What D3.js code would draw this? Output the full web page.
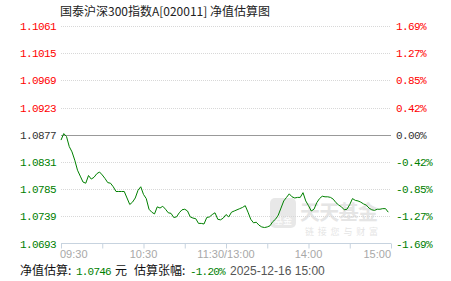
<!DOCTYPE html>
<html>
<head>
<meta charset="utf-8">
<script src="https://cdn.jsdelivr.net/npm/d3@7"></script>
<style>
  body { margin: 0; background: #fff; }
  svg { display: block; }
</style>
</head>
<body>
<div id="chart"></div>
<script>
// estimated NAV every 2 minutes from 09:30
const navValues = [
  1.0868, 1.0879, 1.0874, 1.0857, 1.0848, 1.0834, 1.0817, 1.0807, 1.0797, 1.0795,
  1.0808, 1.0802, 1.0805, 1.0811, 1.0814, 1.0809, 1.0803, 1.0796, 1.0795, 1.0789,
  1.0781, 1.0781, 1.0781, 1.0781, 1.0770, 1.0759, 1.0763, 1.0770, 1.0783, 1.0789,
  1.0776, 1.0769, 1.0751, 1.0746, 1.0743, 1.0755, 1.0753, 1.0756, 1.0751, 1.0745,
  1.0744, 1.0737, 1.0738, 1.0745, 1.0750, 1.0751, 1.0748, 1.0738, 1.0736, 1.0735,
  1.0727, 1.0727, 1.0726, 1.0737, 1.0738, 1.0742, 1.0745, 1.0734, 1.0733, 1.0736,
  1.0742, 1.0738, 1.0746, 1.0748, 1.0750, 1.0752, 1.0754, 1.0757, 1.0746, 1.0734,
  1.0728, 1.0729, 1.0724, 1.0721, 1.0720, 1.0721, 1.0723, 1.0730, 1.0734, 1.0741,
  1.0753, 1.0765, 1.0771, 1.0777, 1.0772, 1.0770, 1.0771, 1.0771, 1.0779, 1.0765,
  1.0757, 1.0748, 1.0751, 1.0762, 1.0769, 1.0773, 1.0772, 1.0772, 1.0771, 1.0768,
  1.0762, 1.0758, 1.0755, 1.0750, 1.0751, 1.0759, 1.0769, 1.0766, 1.0765, 1.0763,
  1.0760, 1.0758, 1.0753, 1.0750, 1.0749, 1.0751, 1.0751, 1.0752, 1.0752, 1.0746
];
const stepMinutes = 2;

const baseNav = 1.0877;
const navTicks = [1.1061, 1.1015, 1.0969, 1.0923, 1.0877, 1.0831, 1.0785, 1.0739, 1.0693];
const pctTicks = ["1.69%", "1.27%", "0.85%", "0.42%", "0.00%", "-0.42%", "-0.85%", "-1.27%", "-1.69%"];
const timeLabels = ["09:30", "10:30", "11:30/13:00", "14:00", "15:00"];
const timeLabelMinutes = [0, 60, 120, 180, 240];
const minorTickMinutes = [0, 30, 60, 90, 120, 150, 180, 210, 240];

const title = "国泰沪深300指数A[020011] 净值估算图";
const estNav = "1.0746";
const estPct = "-1.20%";
const estTime = "2025-12-16 15:00";

const width = 451, height = 281;
const plotLeft = 61, plotRight = 391, plotTop = 26, plotBottom = 243.5;
const red = "#f00", green = "#008000", dark = "#333";
const numFont = "'Liberation Mono', 'DejaVu Sans Mono', monospace";
const cjkFont = "'Noto Sans CJK SC', sans-serif";

const svg = d3.select("#chart").append("svg")
  .attr("width", width)
  .attr("height", height);

const x = d3.scaleLinear().domain([0, 240]).range([plotLeft, plotRight]);
const y = d3.scaleLinear().domain([navTicks[navTicks.length - 1], navTicks[0]]).range([plotBottom, plotTop]);

const colorFor = v => v > baseNav ? red : (v < baseNav ? green : dark);

// watermark
const wm = svg.append("g").attr("opacity", 0.55);
wm.append("rect")
  .attr("x", 270).attr("y", 198).attr("width", 26).attr("height", 30).attr("rx", 5)
  .attr("fill", "#d6d6d6");
wm.append("text")
  .attr("x", 283).attr("y", 224).attr("text-anchor", "middle")
  .attr("font-family", cjkFont).attr("font-size", 9).attr("fill", "#fff")
  .text("基金");
wm.append("text")
  .attr("x", 300).attr("y", 220)
  .attr("font-family", cjkFont).attr("font-size", 20).attr("font-weight", "bold")
  .attr("fill", "#d0d0d0").attr("textLength", 78)
  .text("天天基金");
wm.append("text")
  .attr("x", 305).attr("y", 235)
  .attr("font-family", cjkFont).attr("font-size", 9)
  .attr("fill", "#cfcfcf").attr("textLength", 73)
  .text("链接您与财富");

// grid
svg.append("g")
  .selectAll("line")
  .data(navTicks.filter(v => v !== baseNav && v !== navTicks[navTicks.length - 1]))
  .join("line")
  .attr("x1", plotLeft).attr("x2", plotRight)
  .attr("y1", d => Math.round(y(d)) + 0.5).attr("y2", d => Math.round(y(d)) + 0.5)
  .attr("stroke", "#d8d8d8")
  .attr("stroke-dasharray", "1,1");

svg.append("line")
  .attr("x1", plotLeft).attr("x2", plotRight)
  .attr("y1", Math.round(y(baseNav)) + 0.5).attr("y2", Math.round(y(baseNav)) + 0.5)
  .attr("stroke", "#999");

// bottom axis
const xAxis = d3.axisBottom(x)
  .tickValues(minorTickMinutes)
  .tickSize(5)
  .tickFormat("");
const axisG = svg.append("g")
  .attr("transform", `translate(0,${Math.round(plotBottom) - 0.5})`)
  .call(xAxis);
axisG.select(".domain").attr("stroke", "#c7d3df").attr("d", `M${plotLeft},0H${plotRight}`);
axisG.selectAll(".tick line").attr("stroke", "#c7d3df");

svg.append("g")
  .selectAll("text")
  .data(timeLabels)
  .join("text")
  .attr("x", (d, i) => x(timeLabelMinutes[i]) + (i === 0 ? -1 : 0))
  .attr("y", 258)
  .attr("text-anchor", (d, i) => i === 0 ? "start" : (i === timeLabels.length - 1 ? "end" : "middle"))
  .attr("font-family", "'Liberation Sans', Arial, sans-serif")
  .attr("font-size", 11)
  .attr("fill", "#a8a8a8")
  .text(d => d);

// y labels
svg.append("g")
  .selectAll("text")
  .data(navTicks)
  .join("text")
  .attr("x", 56)
  .attr("y", d => y(d) + 4)
  .attr("text-anchor", "end")
  .attr("font-family", numFont)
  .attr("font-size", 11)
  .attr("letter-spacing", "-0.6px")
  .attr("fill", colorFor)
  .text(d => d.toFixed(4));

svg.append("g")
  .selectAll("text")
  .data(pctTicks)
  .join("text")
  .attr("x", 396)
  .attr("y", (d, i) => y(navTicks[i]) + 4)
  .attr("font-family", numFont)
  .attr("font-size", 11)
  .attr("letter-spacing", "-0.6px")
  .attr("fill", (d, i) => colorFor(navTicks[i]))
  .text(d => d);

// line
const line = d3.line()
  .x((d, i) => x(i * stepMinutes))
  .y(d => y(d));

svg.append("path")
  .datum(navValues)
  .attr("fill", "none")
  .attr("stroke", "#008000")
  .attr("stroke-width", 1)
  .attr("d", line);

// title
svg.append("text")
  .attr("x", 165).attr("y", 16)
  .attr("text-anchor", "middle")
  .attr("font-family", cjkFont)
  .attr("font-size", 12)
  .attr("fill", "#222")
  .text(title);

// footer
const foot = svg.append("text")
  .attr("y", 275)
  .attr("font-size", 12);
foot.append("tspan").attr("x", 20).attr("font-family", cjkFont).attr("fill", "#111").text("净值估算:");
foot.append("tspan").attr("x", 76).attr("font-family", numFont).attr("font-size", 11)
  .attr("letter-spacing", "-0.8px").attr("fill", green).text(estNav);
foot.append("tspan").attr("x", 115).attr("font-family", cjkFont).attr("fill", "#111").text("元");
foot.append("tspan").attr("x", 134).attr("font-family", cjkFont).attr("fill", "#111").text("估算张幅:");
foot.append("tspan").attr("x", 190).attr("font-family", numFont).attr("font-size", 11)
  .attr("letter-spacing", "-0.8px").attr("fill", green).text(estPct);
foot.append("tspan").attr("x", 230).attr("font-family", "'Liberation Sans', Arial, sans-serif")
  .attr("font-size", 12).attr("fill", "#555").text(estTime);
</script>
</body>
</html>
